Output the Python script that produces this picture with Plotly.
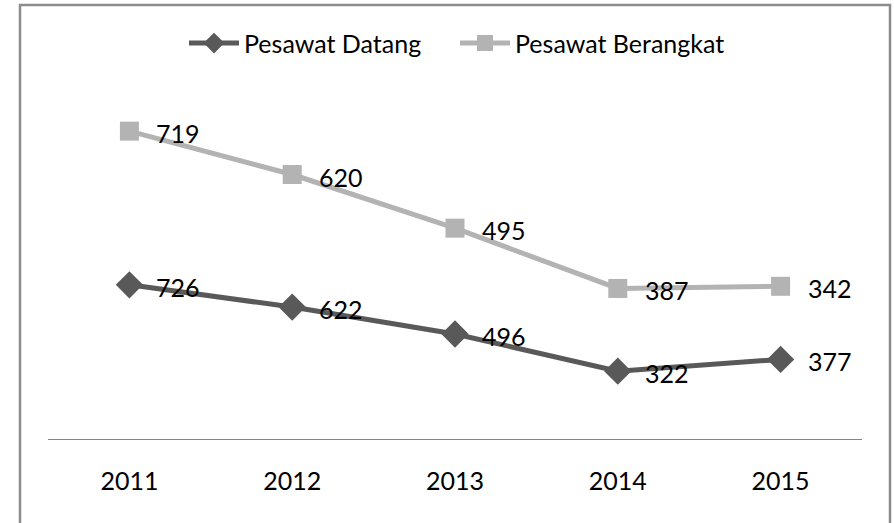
import plotly.graph_objects as go
import numpy as np

years = ["2011", "2012", "2013", "2014", "2015"]
datang = [726, 622, 496, 322, 377]
berangkat = [719, 620, 495, 387, 342]

# Excel stacked line chart: second series stacked on first
datang_y = np.array(datang)
berangkat_y = datang_y + np.array(berangkat)

FONT = "Lato"
c_dat = "#595959"
c_ber = "#B3B3B3"

fig = go.Figure()
fig.add_trace(go.Scatter(
    x=years, y=datang_y.tolist(), name="Pesawat Datang", mode="lines+markers",
    line=dict(color=c_dat, width=5),
    marker=dict(symbol="diamond", size=21, color=c_dat)))
fig.add_trace(go.Scatter(
    x=years, y=berangkat_y.tolist(), name="Pesawat Berangkat", mode="lines+markers",
    line=dict(color=c_ber, width=5),
    marker=dict(symbol="square", size=19, color=c_ber)))

ann = []
for ys, vals in [(datang_y, datang), (berangkat_y, berangkat)]:
    for i, (y, v) in enumerate(zip(ys, vals)):
        ann.append(dict(x=i, y=int(y), text=str(v), showarrow=False, xanchor="left",
                        yanchor="middle", xshift=25, yshift=-2,
                        font=dict(family=FONT, size=25, color="#000000")))

fig.update_layout(
    width=894, height=523,
    margin=dict(l=48, r=32, t=98, b=83),
    paper_bgcolor="white", plot_bgcolor="white",
    font=dict(family=FONT, size=24, color="#000000"),
    showlegend=True,
    legend=dict(orientation="h", x=0.5, xanchor="center", y=1.16, yanchor="middle",
                font=dict(family=FONT, size=25), itemwidth=50,
                entrywidth=206, entrywidthmode="pixels"),
    annotations=ann,
    xaxis=dict(type="category", range=[-0.5, 4.5], showgrid=False, zeroline=False,
               showline=False, ticks="", ticklabelstandoff=24,
               tickfont=dict(family=FONT, size=25)),
    yaxis=dict(range=[0, 1600], visible=False, showgrid=False, zeroline=False),
    shapes=[
        dict(type="line", xref="paper", yref="y", x0=0, x1=1, y0=0, y1=0,
             line=dict(color="#868686", width=2), layer="below"),
        dict(type="rect", xref="paper", yref="paper", x0=-0.0344, x1=1.0344,
             y0=-0.27, y1=1.272, line=dict(color="#8C8C8C", width=2.5)),
    ],
)
fig.write_html("out.html", config={"displayModeBar": False},
               post_script="document.body.style.margin='0';")
